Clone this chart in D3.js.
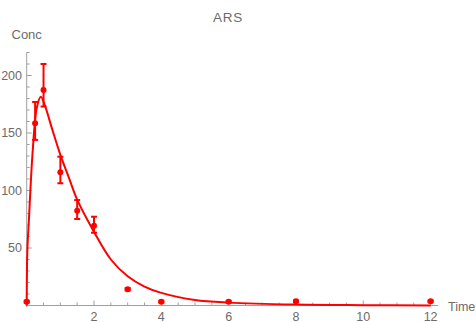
<!DOCTYPE html>
<html>
<head>
<meta charset="utf-8">
<script src="https://cdn.jsdelivr.net/npm/d3@7"></script>
<style>
  html, body { margin: 0; padding: 0; background: #fff; }
  svg { display: block; font-family: "Liberation Sans", Arial, sans-serif; }
</style>
</head>
<body>
<svg id="chart" width="476" height="322"></svg>
<script>
// Observed concentrations (mean with lower / upper error limits)
const times   = [0, 0.25, 0.5, 1, 1.5, 2, 3, 4, 6, 8, 12];
const conc    = [3.3, 158.5, 187.4, 115.8, 82.4, 69.4, 14.1, 3.3, 3.3, 3.6, 3.6];
const concLo  = [2.5, 144, 173, 106.3, 75.2, 63.3, 13.1, 2.5, 2.5, 2.8, 2.8];
const concHi  = [4.1, 177, 210, 129.4, 91.7, 77.2, 15.1, 4.1, 4.1, 4.4, 4.4];

// Fitted concentration-time curve
const fitTimes = [0, 0.02, 0.07, 0.12, 0.18, 0.3, 0.42, 0.54, 0.75, 1.0, 1.25, 1.5, 2.0, 2.5, 3, 3.5, 4, 5, 6, 8, 10, 12];
const fitConc  = [0, 48, 77, 106, 135, 172, 181.5, 174, 154, 131, 111.5, 92, 64, 40, 25.5, 16.5, 11, 4.8, 2.5, 0.8, 0.3, 0.1];

// Axis ticks
const xMajor = [2, 4, 6, 8, 10, 12];
const yMajor = [50, 100, 150, 200];
const xMinor = d3.range(1, 25).map(i => i * 0.5);
const yMinor = d3.range(1, 23).map(i => i * 10);

const svg = d3.select("#chart");
const x = d3.scaleLinear().domain([0, 12.22]).range([26.7, 438]);
const y = d3.scaleLinear().domain([0, 220]).range([305.5, 52.5]);

const axisColor = "#a0a0a0";
const textColor = "#6b6b6b";
const red = "#ff0000";

// X axis: line, inward ticks, labels
const gx = svg.append("g");
gx.append("line")
  .attr("x1", x(0) - 1).attr("x2", x.range()[1])
  .attr("y1", y(0)).attr("y2", y(0))
  .attr("stroke", axisColor).attr("stroke-width", 1);
gx.selectAll("line.minor").data(xMinor).join("line")
  .attr("class", "minor")
  .attr("x1", d => x(d)).attr("x2", d => x(d))
  .attr("y1", y(0)).attr("y2", d => y(0) - (xMajor.includes(d) ? 5 : 3))
  .attr("stroke", axisColor).attr("stroke-width", 1);
gx.selectAll("text").data(xMajor).join("text")
  .attr("x", d => x(d)).attr("y", 320.5)
  .attr("text-anchor", "middle")
  .attr("font-size", 12.5).attr("fill", textColor)
  .text(d => d);

// Y axis
const gy = svg.append("g");
gy.append("line")
  .attr("x1", x(0)).attr("x2", x(0))
  .attr("y1", y(0) + 1.5).attr("y2", y.range()[1])
  .attr("stroke", axisColor).attr("stroke-width", 1);
gy.selectAll("line.minor").data(yMinor).join("line")
  .attr("class", "minor")
  .attr("x1", x(0)).attr("x2", d => x(0) + (yMajor.includes(d) ? 5 : 3))
  .attr("y1", d => y(d)).attr("y2", d => y(d))
  .attr("stroke", axisColor).attr("stroke-width", 1);
gy.selectAll("text").data(yMajor).join("text")
  .attr("x", 22).attr("y", d => y(d) + 4.4)
  .attr("text-anchor", "end")
  .attr("font-size", 12.5).attr("fill", textColor)
  .text(d => d);

// Axis titles and chart title
svg.append("text").attr("x", 11.5).attr("y", 39)
  .attr("font-size", 13).attr("fill", textColor).text("Conc");
svg.append("text").attr("x", 448).attr("y", 311)
  .attr("font-size", 12.5).attr("fill", textColor).text("Time");
svg.append("text").attr("x", 228).attr("y", 21.7)
  .attr("text-anchor", "middle")
  .attr("font-size", 13.5).attr("letter-spacing", 0.8)
  .attr("fill", textColor).text("ARS");

// Fitted curve
const fitData = fitTimes.map((t, i) => [t, fitConc[i]]);
svg.append("path")
  .datum(fitData)
  .attr("fill", "none")
  .attr("stroke", red)
  .attr("stroke-width", 2)
  .attr("d", d3.line().x(d => x(d[0])).y(d => y(d[1])).curve(d3.curveCatmullRom.alpha(0.5)));

// Observations with error bars
const obs = times.map((t, i) => ({ t, c: conc[i], lo: concLo[i], hi: concHi[i] }));
const gObs = svg.append("g").attr("stroke", red).attr("fill", red);
const cap = 3;
gObs.selectAll("line.bar").data(obs).join("line")
  .attr("x1", d => x(d.t)).attr("x2", d => x(d.t))
  .attr("y1", d => y(d.lo)).attr("y2", d => y(d.hi))
  .attr("stroke-width", 2);
gObs.selectAll("line.capHi").data(obs).join("line")
  .attr("x1", d => x(d.t) - cap).attr("x2", d => x(d.t) + cap)
  .attr("y1", d => y(d.hi)).attr("y2", d => y(d.hi))
  .attr("stroke-width", 2);
gObs.selectAll("line.capLo").data(obs).join("line")
  .attr("x1", d => x(d.t) - cap).attr("x2", d => x(d.t) + cap)
  .attr("y1", d => y(d.lo)).attr("y2", d => y(d.lo))
  .attr("stroke-width", 2);
gObs.selectAll("circle").data(obs).join("circle")
  .attr("cx", d => x(d.t)).attr("cy", d => y(d.c))
  .attr("r", 3).attr("stroke", "none");
</script>
</body>
</html>
